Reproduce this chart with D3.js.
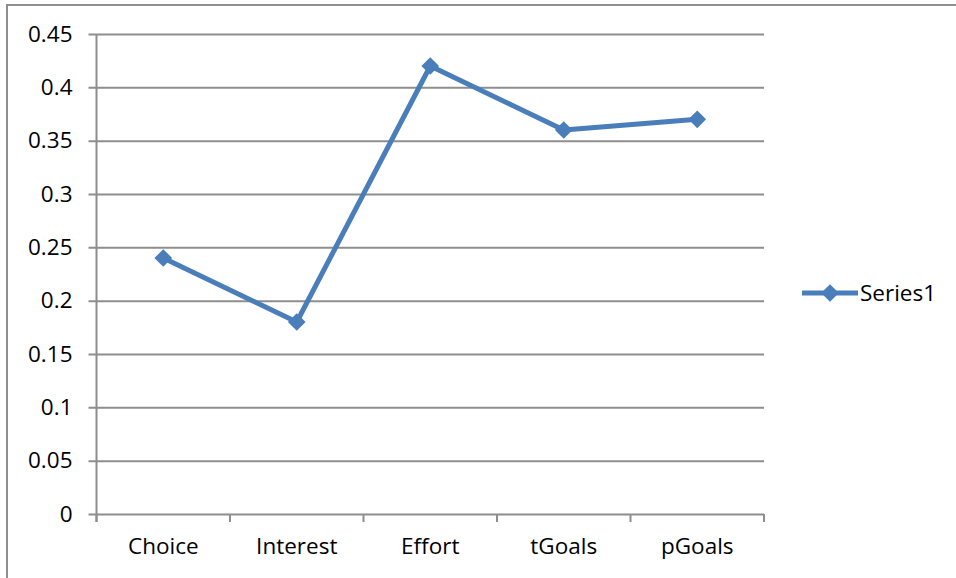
<!DOCTYPE html>
<html>
<head>
<meta charset="utf-8">
<script src="https://cdn.jsdelivr.net/npm/d3@7"></script>
<style>
  html, body { margin: 0; padding: 0; background: #fff; }
  svg { display: block; font-family: "Open Sans", sans-serif; }
</style>
</head>
<body>
<svg id="chart" width="956" height="578"></svg>
<script>
// Category labels and the single series plotted against them
const categories = ["Choice", "Interest", "Effort", "tGoals", "pGoals"];
const series1 = [0.24, 0.18, 0.42, 0.36, 0.37];
const seriesName = "Series1";
const yTicks = [0, 0.05, 0.1, 0.15, 0.2, 0.25, 0.3, 0.35, 0.4, 0.45];

const svg = d3.select("#chart");
const lineColor = "#4a7ebb";
const gridColor = "#8e8e8e";
const fontSize = 22.5;

// Chart area frame (left and top edges)
svg.append("path")
  .attr("d", "M7,578 V5 H956")
  .attr("fill", "none")
  .attr("stroke", gridColor)
  .attr("stroke-width", 2);

const plot = { left: 96.5, right: 764, top: 34, bottom: 514 };

const x = d3.scaleBand().domain(categories).range([plot.left, plot.right]);
const y = d3.scaleLinear().domain([0, 0.45]).range([plot.bottom, plot.top]);

// Horizontal gridlines with small ticks left of the axis
const yAxis = d3.axisLeft(y)
  .tickValues(yTicks)
  .tickFormat(d => d3.format("~g")(+d.toFixed(2)))
  .tickSizeInner(-(plot.right - plot.left))
  .tickSizeOuter(0)
  .tickPadding(24);

const gy = svg.append("g")
  .attr("transform", `translate(${plot.left},0)`)
  .call(yAxis);
gy.select(".domain").remove();
gy.selectAll(".tick line")
  .attr("x1", -8)
  .attr("stroke", gridColor)
  .attr("stroke-width", 2);
gy.selectAll(".tick text")
  .attr("fill", "#000")
  .attr("font-size", fontSize)
  .attr("font-family", "'Open Sans', sans-serif");

// Vertical axis line
svg.append("line")
  .attr("x1", plot.left).attr("x2", plot.left)
  .attr("y1", plot.top).attr("y2", plot.bottom + 8)
  .attr("stroke", gridColor)
  .attr("stroke-width", 2);

// Category axis: tick marks on band boundaries, labels centred in bands
const gx = svg.append("g")
  .attr("transform", `translate(0,${plot.bottom})`)
  .call(d3.axisBottom(x).tickSize(0).tickPadding(24));
gx.select(".domain").remove();
gx.selectAll(".tick text")
  .attr("fill", "#000")
  .attr("font-size", fontSize)
  .attr("font-family", "'Open Sans', sans-serif");

const boundaries = categories.map(c => x(c)).concat([x(categories[categories.length - 1]) + x.bandwidth()]);
svg.append("g").selectAll("line")
  .data(boundaries)
  .join("line")
  .attr("x1", d => d).attr("x2", d => d)
  .attr("y1", plot.bottom).attr("y2", plot.bottom + 8)
  .attr("stroke", gridColor)
  .attr("stroke-width", 2);

// Series line and diamond markers
const cx = c => x(c) + x.bandwidth() / 2;
const line = d3.line()
  .x((d, i) => cx(categories[i]))
  .y(d => y(d));

svg.append("path")
  .datum(series1)
  .attr("d", line)
  .attr("fill", "none")
  .attr("stroke", lineColor)
  .attr("stroke-width", 5)
  .attr("stroke-linejoin", "round");

const diamond = d3.symbol().type(d3.symbolDiamond2).size(200);
svg.append("g").selectAll("path")
  .data(series1)
  .join("path")
  .attr("d", diamond)
  .attr("transform", (d, i) => `translate(${cx(categories[i])},${y(d)})`)
  .attr("fill", lineColor);

// Legend
const legend = svg.append("g").attr("transform", "translate(802,293)");
legend.append("line")
  .attr("x1", 0).attr("x2", 56)
  .attr("stroke", lineColor)
  .attr("stroke-width", 5);
legend.append("path")
  .attr("d", diamond)
  .attr("transform", "translate(28,0)")
  .attr("fill", lineColor);
legend.append("text")
  .attr("x", 58)
  .attr("y", 0)
  .attr("dy", "0.35em")
  .attr("font-size", fontSize)
  .attr("fill", "#000")
  .text(seriesName);
</script>
</body>
</html>
